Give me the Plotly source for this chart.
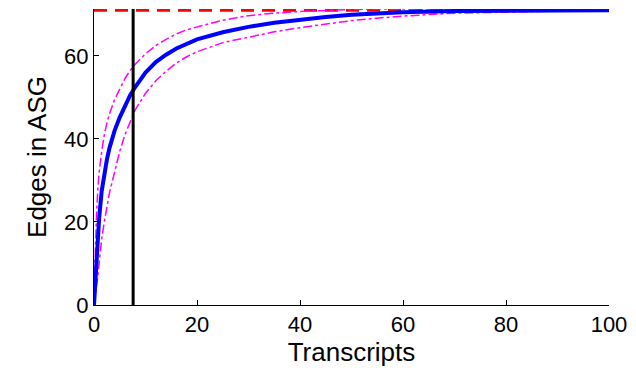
import plotly.graph_objects as go

transcripts = [0, 0.25, 0.5, 0.75, 1, 1.5, 2, 2.5, 3, 4, 5, 6, 7, 8, 10, 12, 14, 16, 18, 20, 25, 30, 35, 40, 45, 50, 55, 60, 70, 80, 90, 100]
edges_mean = [0, 6.5, 12, 17, 21, 27.5, 32, 35, 37.8, 42, 45.2, 48, 50.5, 52.5, 56, 58.5, 60.3, 61.8, 63, 64, 65.7, 67, 68, 68.8, 69.4, 69.9, 70.2, 70.5, 70.8, 70.9, 71, 71]
edges_upper = [3, 14, 22, 28, 32, 37, 41, 43.8, 46, 49.5, 52, 54.5, 56.5, 58, 60.5, 62.5, 64, 65.3, 66.3, 67, 68.6, 69.7, 70.3, 70.7, 71, 71.2, 71.3, 71.3, 71.3, 71.3, 71.3, 71.3]
edges_lower = [0, 2, 4, 7, 10, 16, 20, 24, 27, 32, 37, 41, 44, 47, 51, 54, 56.3, 58.3, 59.8, 61, 63.2, 64.5, 65.8, 66.8, 67.7, 68.5, 69.1, 69.6, 70.3, 70.6, 70.8, 70.9]
total_edges = 71
cutoff_x = 7.6
x_ticks = [0, 20, 40, 60, 80, 100]
y_ticks = [0, 20, 40, 60]
y_max = 71.3

fig = go.Figure()
fig.add_trace(go.Scatter(x=[0, 100], y=[total_edges, total_edges], mode="lines",
                         line=dict(color="#ff0000", width=3, dash="13px,8px"), showlegend=False))
fig.add_trace(go.Scatter(x=transcripts, y=edges_upper, mode="lines",
                         line=dict(color="#ff00ff", width=1.5, dash="dashdot"), showlegend=False))
fig.add_trace(go.Scatter(x=transcripts, y=edges_lower, mode="lines",
                         line=dict(color="#ff00ff", width=1.5, dash="dashdot"), showlegend=False))
fig.add_trace(go.Scatter(x=transcripts, y=edges_mean, mode="lines",
                         line=dict(color="#0000ff", width=4), showlegend=False))
fig.add_trace(go.Scatter(x=[cutoff_x, cutoff_x], y=[0, y_max], mode="lines",
                         line=dict(color="#000000", width=3), showlegend=False))

font = dict(family="Liberation Sans Narrow, Liberation Sans, Arial, sans-serif", size=22, color="#000000")
fig.update_layout(
    width=628, height=365,
    margin=dict(l=86, r=27, t=1, b=68),
    paper_bgcolor="white", plot_bgcolor="white",
    font=font,
    xaxis=dict(range=[0, 100], tickvals=x_ticks, ticks="inside", ticklen=5, tickcolor="black",
               showline=True, linecolor="black", linewidth=1, showgrid=False, zeroline=False,
               title=dict(text="Transcripts", standoff=4), tickfont=font),
    yaxis=dict(range=[0, y_max], tickvals=y_ticks, ticks="inside", ticklen=5, tickcolor="black",
               showline=True, linecolor="black", linewidth=1, showgrid=False, zeroline=False,
               title=dict(text="Edges in ASG", standoff=10), tickfont=font),
)
fig.write_html("out.html")
